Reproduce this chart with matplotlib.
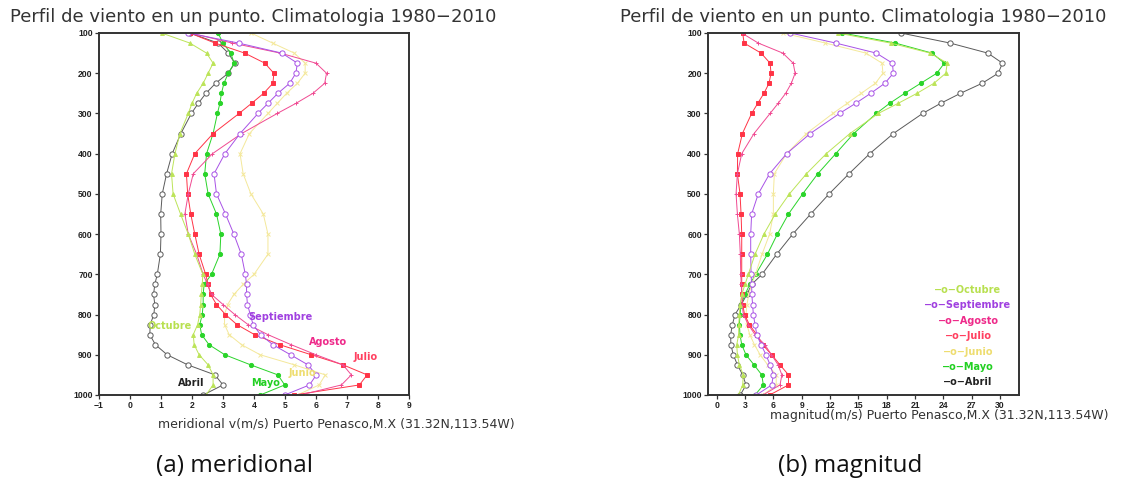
import matplotlib
matplotlib.use("Agg")
import matplotlib.pyplot as plt
import numpy as np

# pressure levels (hPa)
levels = [100, 125, 150, 175, 200, 225, 250, 275, 300, 350, 400, 450, 500, 550, 600,
          650, 700, 725, 750, 775, 800, 825, 850, 875, 900, 925, 950, 975, 1000]

months = ["Abril", "Mayo", "Junio", "Julio", "Agosto", "Septiembre", "Octubre"]

# meridional wind v (m/s)
v_abril = [1.93, 2.84, 3.17, 3.38, 3.17, 2.76, 2.45, 2.2, 1.98, 1.64, 1.36, 1.18, 1.04, 0.99, 1.0,
           0.98, 0.88, 0.8, 0.76, 0.8, 0.77, 0.65, 0.64, 0.82, 1.2, 1.86, 2.74, 3.0, 2.36]
v_mayo = [2.84, 3.0, 3.25, 3.36, 3.17, 3.03, 2.95, 2.9, 2.82, 2.68, 2.47, 2.41, 2.52, 2.79, 2.93,
          2.9, 2.63, 2.39, 2.36, 2.36, 2.33, 2.25, 2.31, 2.55, 3.06, 3.89, 4.77, 4.99, 4.2]
v_junio = [3.9, 4.6, 5.3, 5.65, 5.65, 5.4, 5.05, 4.75, 4.45, 3.85, 3.55, 3.65, 3.9, 4.3, 4.45,
           4.45, 4.0, 3.65, 3.35, 3.15, 3.05, 3.05, 3.2, 3.6, 4.2, 5.3, 6.3, 6.1, 5.4]
v_julio = [1.93, 2.74, 3.7, 4.35, 4.64, 4.61, 4.31, 3.92, 3.52, 2.68, 2.09, 1.82, 1.86, 1.96, 2.09,
           2.23, 2.44, 2.52, 2.6, 2.79, 3.08, 3.45, 4.02, 4.83, 5.85, 6.87, 7.65, 7.4, 5.3]
v_agosto = [1.95, 3.3, 4.85, 6.0, 6.34, 6.28, 5.9, 5.35, 4.75, 3.6, 2.66, 2.04, 1.88, 1.77, 1.88,
            2.15, 2.36, 2.5, 2.63, 3.0, 3.38, 3.81, 4.45, 5.2, 6.0, 6.87, 7.14, 6.82, 5.5]
v_septiembre = [1.88, 3.5, 4.9, 5.4, 5.35, 5.15, 4.77, 4.45, 4.13, 3.55, 3.06, 2.71, 2.79, 3.08, 3.35,
                3.59, 3.72, 3.76, 3.76, 3.79, 3.88, 3.97, 4.21, 4.61, 5.18, 5.74, 6.01, 5.79, 4.99]
v_octubre = [1.02, 1.93, 2.47, 2.68, 2.52, 2.36, 2.15, 2.0, 1.88, 1.61, 1.45, 1.34, 1.39, 1.63, 1.88,
             2.09, 2.35, 2.33, 2.3, 2.28, 2.25, 2.18, 2.04, 2.07, 2.23, 2.52, 2.68, 2.68, 2.45]

# wind speed magnitude (m/s)
m_abril = [19.5, 24.7, 28.7, 30.25, 29.8, 28.1, 25.8, 23.7, 21.8, 18.7, 16.2, 14.0, 11.9, 9.95, 8.05,
           6.35, 4.8, 3.7, 3.2, 2.6, 1.94, 1.66, 1.48, 1.5, 1.76, 2.19, 2.75, 3.1, 2.5]
m_mayo = [13.3, 18.9, 22.8, 24.1, 23.3, 21.6, 19.9, 18.3, 16.9, 14.5, 12.6, 10.7, 9.1, 7.6, 6.42,
          5.37, 4.13, 3.5, 3.0, 2.6, 2.47, 2.4, 2.47, 2.65, 3.1, 3.95, 4.77, 4.94, 4.06]
m_junio = [7.0, 11.5, 15.8, 17.5, 17.6, 16.8, 15.3, 13.8, 12.3, 9.5, 7.4, 6.1, 6.0, 6.0, 5.6,
           4.8, 4.1, 3.7, 3.4, 3.2, 3.1, 3.2, 3.5, 4.0, 4.6, 5.4, 6.3, 6.3, 4.9]
m_julio = [2.75, 2.9, 4.7, 5.65, 5.75, 5.54, 5.0, 4.34, 3.7, 2.72, 2.22, 2.19, 2.47, 2.58, 2.65,
           2.65, 2.65, 2.65, 2.65, 2.75, 2.95, 3.46, 4.24, 4.87, 5.82, 6.7, 7.6, 7.6, 5.6]
m_agosto = [2.65, 4.4, 7.0, 8.1, 8.3, 7.9, 7.3, 6.5, 5.65, 3.95, 2.65, 2.19, 2.05, 2.19, 2.4,
            2.5, 2.55, 2.6, 2.65, 2.7, 2.82, 3.35, 4.06, 5.1, 5.8, 6.5, 6.9, 6.7, 4.9]
m_septiembre = [7.8, 12.6, 16.9, 18.6, 18.7, 17.8, 16.3, 14.7, 13.0, 9.9, 7.4, 5.6, 4.4, 3.7, 3.6,
                3.6, 3.64, 3.7, 3.72, 3.8, 3.88, 4.06, 4.24, 4.7, 5.22, 5.65, 6.0, 5.82, 4.2]
m_octubre = [12.8, 18.4, 22.6, 24.4, 24.25, 23.0, 21.2, 19.2, 17.1, 14.1, 11.6, 9.5, 7.7, 6.2, 5.0,
             4.06, 3.35, 3.0, 2.65, 2.47, 2.4, 2.33, 2.33, 2.12, 2.19, 2.4, 2.82, 2.75, 2.3]

v_ticks = list(range(-1, 10))
m_ticks = list(range(0, 31, 3))
p_ticks = list(range(100, 1001, 100))

v_series = [v_abril, v_mayo, v_junio, v_julio, v_agosto, v_septiembre, v_octubre]
m_series = [m_abril, m_mayo, m_junio, m_julio, m_agosto, m_septiembre, m_octubre]

# style per month: (line color, marker, marker face, marker size)
styles = {
    "Abril": ("#5a5a5a", "o", "white", 3.8),
    "Mayo": ("#2ad42a", "o", "#2ad42a", 3.0),
    "Junio": ("#f4e89a", "x", "#f4e89a", 2.5),
    "Julio": ("#ff3446", "s", "#ff3446", 2.8),
    "Agosto": ("#f04a92", "+", "#f04a92", 3.2),
    "Septiembre": ("#a852e6", "o", "white", 3.8),
    "Octubre": ("#bce458", "^", "#bce458", 2.8),
}
label_colors = {
    "Abril": "#222222", "Mayo": "#22d022", "Junio": "#eedd70", "Julio": "#ff4060",
    "Agosto": "#ee2a8a", "Septiembre": "#a040e0", "Octubre": "#b8e050",
}

W, H = 1128, 482
fig = plt.figure(figsize=(W / 100, H / 100), dpi=100)


def px_axes(x0, x1, y0, y1):
    return fig.add_axes([x0 / W, 1 - y1 / H, (x1 - x0) / W, (y1 - y0) / H])


def style_axes(ax, xticks, xlim):
    ax.set_ylim(1000, 100)
    ax.set_xlim(*xlim)
    ax.set_yticks(p_ticks)
    ax.set_xticks(xticks)
    for sp in ax.spines.values():
        sp.set_linewidth(1.4)
        sp.set_color("#333333")
    ax.tick_params(direction="out", length=3, width=0.9, color="#333333", pad=1.5)
    for lab in ax.get_xticklabels() + ax.get_yticklabels():
        lab.set_fontfamily("Liberation Sans")
        lab.set_fontweight("bold")
        lab.set_fontsize(6.2)
        lab.set_color("#222222")


def draw_profiles(ax, series):
    for name, vals in zip(months, series):
        col, mk, face, ms = styles[name]
        ax.plot(vals, levels, color=col, lw=0.7, marker=mk, ms=ms,
                mfc=face, mec=col, mew=0.7, clip_on=True)


title = "Perfil de viento en un punto. Climatologia 1980\u22122010"

# left panel: meridional wind
ax1 = px_axes(99, 409, 33, 395)
draw_profiles(ax1, v_series)
style_axes(ax1, v_ticks, (-1, 9))

# month labels inside left panel (data coords)
left_labels = [("Septiembre", 3.81, 805), ("Agosto", 5.76, 868), ("Julio", 7.21, 906),
               ("Junio", 5.1, 946), ("Mayo", 3.92, 971), ("Abril", 1.56, 971),
               ("Octubre", 0.57, 829)]
for name, x, p in left_labels:
    ax1.text(x, p, name, color=label_colors[name], fontsize=7, fontweight="bold",
             ha="left", va="center", family="DejaVu Sans")

# right panel: magnitude
ax2 = px_axes(708, 1019, 33, 395)
draw_profiles(ax2, m_series)
style_axes(ax2, m_ticks, (-0.92, 32.0))

# legend drawn as stacked text, Octubre at top
for i, name in enumerate(months[::-1]):
    ax2.text(0.836, 0.29 - i * 0.0425, "\u2212o\u2212" + name, transform=ax2.transAxes,
             color=label_colors[name], fontsize=7, fontweight="bold",
             ha="center", va="center", family="DejaVu Sans")

# titles, axis captions and subfigure captions
fig.text(10 / W, 1 - 17 / H, title, fontsize=13, color="#333333", va="center", ha="left")
fig.text(620 / W, 1 - 17 / H, title, fontsize=13, color="#333333", va="center", ha="left")
fig.text(158 / W, 1 - 424 / H, "meridional v(m/s) Puerto Penasco,M.X (31.32N,113.54W)",
         fontsize=9, color="#333333", va="center", ha="left")
fig.text(770 / W, 1 - 415 / H, "magnitud(m/s) Puerto Penasco,M.X (31.32N,113.54W)",
         fontsize=9, color="#333333", va="center", ha="left")
fig.text(235 / W, 1 - 466 / H, "(a) meridional", fontsize=17.5, family="Open Sans",
         color="#111111", va="center", ha="center")
fig.text(850 / W, 1 - 466 / H, "(b) magnitud", fontsize=17.5, family="Open Sans",
         color="#111111", va="center", ha="center")

fig.savefig("out.png", dpi=100, facecolor="white")
